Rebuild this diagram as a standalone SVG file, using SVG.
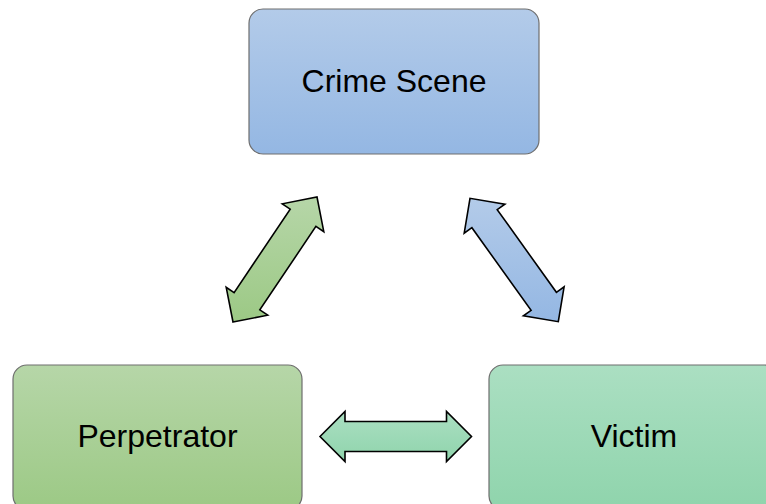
<svg xmlns="http://www.w3.org/2000/svg" width="766" height="504" viewBox="0 0 766 504">
<defs>
<linearGradient id="gBlue" x1="0" y1="0" x2="0" y2="1"><stop offset="0" stop-color="#b3cbe9"/><stop offset="1" stop-color="#94b7e3"/></linearGradient>
<linearGradient id="gGreen" x1="0" y1="0" x2="0" y2="1"><stop offset="0" stop-color="#b6d6a8"/><stop offset="1" stop-color="#9cc985"/></linearGradient>
<linearGradient id="gTeal" x1="0" y1="0" x2="0" y2="1"><stop offset="0" stop-color="#abdfc2"/><stop offset="1" stop-color="#8fd4ac"/></linearGradient>
<style>
.box{stroke:#6e6e6e;stroke-width:1.2}
.lbl{font-family:"Liberation Sans",Arial,sans-serif;font-size:32px;fill:#000;text-anchor:middle}
.arr{stroke:#000;stroke-width:1.6;stroke-linejoin:miter}
</style>
</defs>
<rect width="766" height="504" fill="#fff"/>
<g id="connectors">
<polygon class="arr" fill="url(#gGreen)" points="233,322 267.7,315.2 259.8,309.9 315.9,226.4 323.8,231.7 317,197 282.3,203.8 290.2,209.1 234.1,292.6 226.2,287.3"/>
<polygon class="arr" fill="url(#gBlue)" points="470,198.3 464.2,233.2 471.9,227.7 531.1,310.4 523.4,315.9 558.3,321.7 564.1,286.8 556.4,292.3 497.2,209.6 504.9,204.1"/>
<polygon class="arr" fill="url(#gTeal)" points="320,436.5 345,411.5 345,421.5 446.5,421.5 446.5,411.5 471.5,436.5 446.5,461.5 446.5,451.5 345,451.5 345,461.5"/>
</g>
<g id="crime-scene">
<rect class="box" x="249" y="9" width="290" height="145" rx="14" fill="url(#gBlue)"/>
<text class="lbl" x="394" y="92">Crime Scene</text>
</g>
<g id="perpetrator">
<rect class="box" x="13" y="365" width="289" height="145" rx="14" fill="url(#gGreen)"/>
<text class="lbl" x="157.5" y="446.5">Perpetrator</text>
</g>
<g id="victim">
<rect class="box" x="489" y="365" width="290" height="145" rx="14" fill="url(#gTeal)"/>
<text class="lbl" x="634" y="446.5">Victim</text>
</g>
</svg>
